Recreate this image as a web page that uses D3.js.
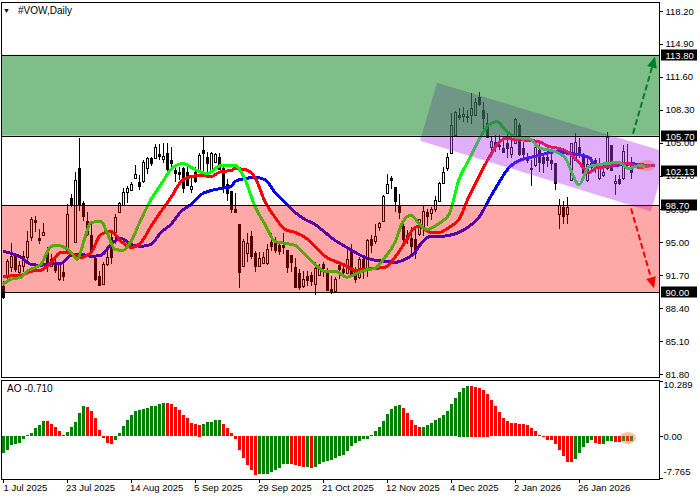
<!DOCTYPE html>
<html>
<head>
<meta charset="utf-8">
<script src="https://cdn.jsdelivr.net/npm/d3@7"></script>
<style>
  body { margin: 0; background: #fff; }
  text { font-family: "Liberation Sans", sans-serif; font-size: 9.5px; fill: #000; }
</style>
</head>
<body>
<svg id="chart" width="700" height="500"></svg>
<script>
// Candles (one entry per bar)
const opens = [90.6,91.6,92.5,93.6,92.0,92.6,93.5,95.5,97.2,95.4,95.7,94.1,92.6,92.8,91.3,92.0,94.1,99.4,95.1,102.5,
  98.9,97.1,95.7,93.4,91.6,90.8,92.8,95.5,96.0,98.0,98.8,100.1,100.3,101.5,101.1,101.2,102.5,103.5,103.5,103.9,
  103.4,104.0,103.3,102.3,102.1,102.5,102.1,100.4,102.1,102.1,104.3,103.6,102.3,103.1,103.6,102.5,100.9,100.2,98.3,96.8,
  92.6,93.9,95.6,93.9,92.6,92.9,92.9,95.0,95.0,94.7,94.7,94.2,93.7,92.5,91.9,90.6,91.6,91.7,90.8,91.7,
  92.8,92.0,90.3,90.1,92.7,92.3,91.9,94.1,92.0,91.5,93.3,92.4,95.3,95.1,96.5,97.1,100.0,101.5,100.6,98.7,
  96.6,95.7,95.4,95.3,95.8,96.6,98.0,97.9,98.3,99.2,101.0,102.5,104.0,105.8,107.8,107.7,107.7,107.8,107.8,109.6,
  108.3,107.0,104.6,105.1,104.8,104.5,105.0,103.9,105.0,106.8,104.5,103.6,102.5,102.8,104.3,103.6,103.6,103.3,103.0,97.8,
  98.5,97.8,101.3,103.3,104.6,103.8,101.3,103.0,103.3,101.5,101.8,102.5,104.8,101.0,101.4,101.5,103.0,103.1];
const closes = [89.5,93.1,93.6,92.3,92.7,93.6,95.1,97.3,97.0,95.2,96.0,92.8,93.3,92.2,92.8,91.6,97.8,98.8,101.3,98.8,
  97.6,95.8,94.1,91.3,90.7,92.8,93.5,93.5,97.5,98.9,100.1,100.5,100.9,101.9,100.7,103.1,103.5,103.0,104.6,103.7,
  103.7,102.4,103.0,102.0,101.9,100.5,100.8,100.7,101.2,103.8,104.0,103.0,104.0,103.9,102.4,100.7,100.0,98.4,98.0,92.0,
  95.1,94.9,93.6,92.6,93.4,93.5,94.3,94.6,94.2,94.1,94.5,92.5,93.0,90.5,90.5,91.3,91.2,91.1,92.4,92.3,
  92.4,90.2,90.1,91.3,92.3,92.0,93.3,91.6,91.3,93.3,92.1,95.2,94.7,95.6,96.9,99.6,100.9,101.3,99.2,98.0,
  95.3,95.3,94.6,93.9,97.3,98.1,97.6,98.3,99.2,101.0,102.1,103.6,106.8,108.1,107.6,107.9,107.6,108.5,109.1,108.9,
  107.5,105.6,105.2,104.8,104.7,104.1,104.5,104.6,107.4,103.9,103.9,103.3,102.4,104.6,103.1,103.0,103.3,103.0,101.0,98.7,
  97.6,98.5,105.0,105.1,104.0,102.0,102.9,102.6,102.6,102.6,102.1,105.6,102.3,101.2,101.0,104.2,102.8,102.13];
const highs = [91.1,93.3,94.9,93.8,93.1,94.1,96.1,97.5,97.6,96.3,96.9,94.5,93.8,93.5,93.0,93.1,98.8,99.8,102.1,105.5,
  99.1,98.0,97.0,93.6,92.1,93.0,94.5,96.0,97.8,99.0,100.5,100.7,101.1,102.8,101.8,103.3,103.6,103.6,104.9,104.9,
  105.0,105.0,104.6,102.8,102.6,102.6,102.6,101.5,102.6,104.0,105.6,104.1,104.1,104.0,104.0,102.6,101.4,100.2,99.9,96.8,
  95.3,95.9,96.1,94.1,94.0,94.0,94.8,95.9,95.5,95.1,95.9,94.2,93.7,93.4,92.3,92.1,92.1,92.0,93.0,92.8,
  93.0,92.4,91.6,91.5,93.0,92.6,94.6,94.8,92.5,93.5,93.5,95.3,95.7,96.8,97.0,99.7,101.9,101.7,100.6,99.8,
  96.8,96.2,96.5,96.6,97.3,98.7,98.3,98.5,99.6,101.1,102.6,104.0,108.0,108.2,108.5,108.6,108.3,110.0,109.5,110.1,
  109.1,108.0,105.6,105.8,105.8,105.6,106.1,105.5,107.5,107.0,105.1,104.0,103.3,104.8,105.0,103.8,104.3,103.9,103.0,99.3,
  99.1,99.5,105.0,106.0,105.5,104.0,103.5,103.6,103.5,103.5,103.0,106.1,104.8,101.8,101.8,104.8,104.9,103.6];
const lows = [89.3,91.3,92.0,92.0,91.5,92.0,93.1,95.1,96.0,94.8,95.7,92.0,92.5,91.9,91.1,91.1,94.0,98.5,95.0,98.1,
  97.1,95.6,94.0,91.1,90.6,90.7,92.6,92.8,94.8,98.0,98.6,98.9,100.2,101.4,100.3,101.0,101.9,102.7,103.4,103.3,
  103.0,102.2,102.6,101.1,101.3,100.0,100.7,100.0,101.0,102.0,102.1,102.1,102.2,103.0,102.3,100.0,99.1,97.9,98.0,90.4,
  92.5,93.0,93.3,92.0,92.5,92.9,92.7,94.1,93.9,93.7,93.8,91.9,92.0,90.4,90.2,90.4,90.6,90.6,89.7,91.6,
  91.5,90.1,89.8,90.1,91.3,91.5,91.8,91.5,90.9,91.3,91.3,91.5,93.9,94.8,96.1,97.0,99.8,100.4,98.0,97.3,
  95.0,94.8,93.7,93.3,95.6,95.6,96.6,97.2,98.0,99.1,100.9,102.2,104.0,105.8,107.3,107.1,107.0,106.9,107.8,108.7,
  106.3,105.5,103.6,104.1,104.3,104.0,103.5,103.5,104.9,103.7,103.3,103.0,100.7,102.6,102.1,102.0,102.6,102.3,100.3,96.3,
  96.8,96.8,101.3,103.2,103.5,101.9,101.1,102.0,102.0,101.3,101.6,102.3,102.3,99.7,100.8,101.3,102.3,101.4];

// Alligator lines (bar position, price)
const jawBars = [0,4.5,7,9.5,12,14.5,17,19.5,22,24.5,27,29.5,32,34.5,37,39.5,42,44.5,47,49.5,52,54.5,57,58,60.5,63,65.5,68,70.5,73,75.5,78,80.5,83,85.5,88,90.5,93,95.5,98,100.5,103,104,105.5,107,109,111.5,114,116.5,119,121.5,124,126.5,129,131.5,134,136.5,139,141.5,144,146.5,148.5,150.5,153,157,159,163];
const jawPrices = [94.1,93.5,92.8,92.7,92.9,92.9,93.7,93.8,93.6,93.7,94.8,95.4,94.8,94.6,94.8,96.0,96.8,98.1,98.8,99.8,100.2,100.4,100.6,101.1,101.4,101.5,101.3,100.0,99.0,98.0,97.3,96.8,96.0,95.2,94.6,94.0,93.5,93.2,93.1,93.0,93.3,94.0,94.6,95.3,95.6,95.6,95.7,96.0,96.6,97.5,99.3,101.0,102.5,103.2,103.5,103.7,104.0,104.1,103.9,103.8,103.5,102.6,102.6,102.7,102.9,102.8,102.7];
const teethBars = [0,4.5,7,9.5,12,14.5,17,19.5,22,24.5,27,29.5,32,34.5,37,39.5,42,44.5,47,49.5,52,54.5,57,58,60.5,63,65.5,68,70.5,73,75.5,78,80.5,83,85.5,88,90.5,93,95.5,98,100.5,103,104,107,109,111.5,114,116.5,119,121.5,124,125.5,129,134,136.5,138,141.5,144,146.5,148.5,151.5,154,156.5,159,162];
const teethPrices = [91.6,91.7,92.1,92.2,93.0,94.0,93.9,93.5,94.0,95.8,96.1,95.1,94.5,95.0,96.6,98.1,99.5,101.1,101.6,101.7,101.6,102.1,102.2,102.4,102.3,101.5,99.1,97.5,96.3,96.0,95.5,94.6,93.6,93.1,92.7,92.2,92.3,92.4,92.5,93.5,95.0,96.5,96.6,96.0,96.0,96.5,97.3,99.6,101.6,103.5,105.0,105.4,105.3,105.1,104.6,104.5,104.0,103.0,102.0,102.5,102.6,102.9,102.9,102.5,102.7];
const lipsBars = [0,2,4.5,6,9.5,12,13.5,17,18.5,20.5,22,24.5,26,28,30,32,34.5,37,39.5,42,45,48,51,54.5,57,58,60.5,63,65.5,68,70.5,73,75.5,78,80.5,83,86,88,90.5,93,95.5,98,100,102,104,106,109,111.5,114,116.5,119,121.5,123.5,125.5,128.5,131.5,134,138,140.5,144,146.5,149,154,156.5,159,160.5];
const lipsPrices = [90.8,91.3,91.5,92.1,92.8,94.6,94.7,94.0,93.3,95.5,97.0,97.1,96.0,94.3,94.2,95.1,97.3,99.3,100.8,102.3,102.9,102.3,101.9,102.7,102.7,102.7,101.3,98.6,96.8,95.1,94.9,94.7,93.8,92.8,92.1,92.1,91.5,91.8,92.2,92.4,93.5,95.0,97.1,97.7,96.9,96.3,96.9,97.8,101.3,103.3,105.3,106.8,107.1,106.3,105.5,105.4,104.5,104.1,103.5,100.8,102.6,102.8,103.0,102.4,102.7,102.6];

// Awesome Oscillator
const aoValues = [-3.09,-2.59,-1.67,-1.48,-1.30,-0.56,0.19,0.56,1.48,2.04,2.78,2.78,2.28,1.67,0.93,0.19,0.74,1.67,2.59,4.26,5.56,5.37,4.69,3.33,1.11,-0.37,-1.30,-1.48,-0.74,0.56,1.85,2.96,3.89,4.63,4.81,5.00,5.19,5.56,5.62,5.93,6.11,6.11,5.93,5.37,4.88,3.89,3.33,2.41,2.22,2.16,2.22,2.59,2.65,2.96,3.02,2.22,1.48,0.56,-0.56,-2.53,-4.07,-5.37,-6.30,-7.22,-7.04,-7.04,-7.04,-6.67,-6.30,-5.93,-5.19,-5.19,-5.19,-5.37,-5.56,-5.68,-5.74,-5.93,-5.74,-5.19,-4.81,-4.63,-4.44,-4.07,-3.70,-3.52,-2.78,-1.85,-1.36,-0.93,-0.56,-0.56,0.19,0.93,1.67,2.78,4.07,5.00,5.56,5.74,5.19,4.26,2.96,2.04,1.67,1.67,2.04,2.41,2.96,3.33,3.89,4.63,5.93,7.04,8.33,9.07,9.44,9.44,9.26,9.07,8.70,7.96,6.67,5.56,4.44,3.33,2.78,2.41,2.41,2.22,2.22,2.04,1.48,0.93,0.19,-0.19,-0.74,-0.74,-1.48,-2.59,-3.70,-4.81,-4.81,-4.26,-3.15,-2.04,-1.30,-0.74,-1.30,-1.48,-1.48,-0.93,-0.93,-1.11,-1.11,-0.93,-0.93,-0.93];
const aoColors = ["g","g","g","g","g","g","g","g","g","g","g","r","r","r","r","r","g","g","g","g","g","r","r","r","r","r","r","r","g","g","g","g","g","g","g","g","g","g","g","g","g","r","r","r","r","r","r","r","r","r","g","g","g","g","g","r","r","r","r","r","r","r","r","r","g","g","g","g","g","g","g","g","r","r","r","r","g","r","g","g","g","g","g","g","g","g","g","g","g","g","g","g","g","g","g","g","g","g","g","g","r","r","r","r","r","g","g","g","g","g","g","g","g","g","g","g","g","r","r","r","r","r","r","r","r","r","r","r","r","r","r","r","r","r","r","r","r","r","r","r","r","r","r","g","g","g","g","g","r","r","g","g","g","r","r","g","r","g"];

const priceTicks = [118.2,114.9,111.6,108.3,105.0,101.7,98.3,95.0,91.7,88.4,85.1,81.8];
const aoTicks = [10.289,0,-7.765];
const dateTickBars = [0,16,32,48,64,80,96,112,128,144];
const dateTickLabels = ["1 Jul 2025","23 Jul 2025","14 Aug 2025","5 Sep 2025","29 Sep 2025","21 Oct 2025","12 Nov 2025","4 Dec 2025","2 Jan 2026","26 Jan 2026"];

// Drawn levels and objects
const levelPrices = [113.8,105.7,102.13,98.7,90];
const channelBars = [108.5,166.25,162,104.25];
const channelPrices = [111.0,104.0,98.1,105.2];
const upArrowBars = [157.5,163];
const upArrowPrices = [105.9,113.6];
const downArrowBars = [157,162.75];
const downArrowPrices = [98.4,90.4];

const svg = d3.select("#chart");
const plotLeft = 2, plotRight = 659, mainTop = 2, mainBottom = 377, aoTop = 380, aoBottom = 479;

const x = d3.scaleLinear().domain([0, 164]).range([3, 659]);
const y = d3.scaleLinear().domain([81.8, 118.2]).range([374, 11]);
const yAo = d3.scaleLinear().domain([-7.765, 10.289]).range([478, 381]);
const px = v => Math.round(x(v)) + 0.5;

svg.append("defs").append("clipPath").attr("id", "mainClip")
  .append("rect").attr("x", plotLeft).attr("y", mainTop)
  .attr("width", plotRight - plotLeft).attr("height", mainBottom - mainTop);
svg.select("defs").append("clipPath").attr("id", "aoClip")
  .append("rect").attr("x", plotLeft).attr("y", aoTop)
  .attr("width", plotRight - plotLeft).attr("height", aoBottom - aoTop);

const main = svg.append("g").attr("clip-path", "url(#mainClip)");

// --- Candles ---
const candles = main.append("g").selectAll("g").data(opens).enter().append("g");
candles.append("line")
  .attr("x1", (d, i) => px(i)).attr("x2", (d, i) => px(i))
  .attr("y1", (d, i) => y(highs[i])).attr("y2", (d, i) => y(lows[i]))
  .attr("stroke", "#000").attr("shape-rendering", "crispEdges");
candles.append("rect")
  .attr("x", (d, i) => px(i) - 1).attr("width", 2)
  .attr("y", (d, i) => Math.round(y(Math.max(opens[i], closes[i]))) + 0.5)
  .attr("height", (d, i) => Math.max(1, Math.round(Math.abs(y(opens[i]) - y(closes[i])))))
  .attr("fill", (d, i) => closes[i] >= opens[i] ? "#fff" : "#000")
  .attr("stroke", "#000").attr("shape-rendering", "crispEdges");

// --- Alligator ---
function drawLine(bars, prices, color) {
  const line = d3.line().x((d, i) => x(bars[i])).y(d => y(d)).curve(d3.curveMonotoneX);
  main.append("path").datum(prices).attr("d", line)
    .attr("fill", "none").attr("stroke", color).attr("stroke-width", 3)
    .attr("shape-rendering", "crispEdges");
}
drawLine(jawBars, jawPrices, "#0000ff");
drawLine(teethBars, teethPrices, "#ff0000");
drawLine(lipsBars, lipsPrices, "#00ff00");

// --- Channel, then the zones over it ---
main.append("path").datum(channelPrices)
  .attr("d", d3.line().x((d, i) => x(channelBars[i])).y(d => y(d)).curve(d3.curveLinearClosed))
  .attr("fill", "rgba(182,60,243,0.41)");

main.append("rect").attr("x", plotLeft).attr("width", plotRight - plotLeft)
  .attr("y", y(levelPrices[0])).attr("height", y(levelPrices[1]) - y(levelPrices[0]))
  .attr("fill", "rgba(0,125,20,0.5)");
main.append("rect").attr("x", plotLeft).attr("width", plotRight - plotLeft)
  .attr("y", y(levelPrices[3])).attr("height", y(levelPrices[4]) - y(levelPrices[3]))
  .attr("fill", "rgba(255,0,0,0.34)");

[0, 1, 3, 4].forEach(k => {
  main.append("line").attr("x1", plotLeft).attr("x2", plotRight)
    .attr("y1", Math.round(y(levelPrices[k])) + 0.5).attr("y2", Math.round(y(levelPrices[k])) + 0.5)
    .attr("stroke", "#000").attr("shape-rendering", "crispEdges");
});

// --- Target arrows ---
function drawArrow(bars, prices, color) {
  const x0 = x(bars[0]), y0 = y(prices[0]), x1 = x(bars[1]), y1 = y(prices[1]);
  const a = Math.atan2(y1 - y0, x1 - x0), len = 11, wing = 5;
  const bx = x1 - len * Math.cos(a), by = y1 - len * Math.sin(a);
  main.append("line").attr("x1", x0).attr("y1", y0).attr("x2", bx).attr("y2", by)
    .attr("stroke", color).attr("stroke-width", 2).attr("stroke-dasharray", "6,3");
  main.append("polygon").attr("fill", color).attr("points", [
    [x1, y1],
    [bx - wing * Math.sin(a), by + wing * Math.cos(a)],
    [bx + wing * Math.sin(a), by - wing * Math.cos(a)]
  ].join(" "));
}
drawArrow(upArrowBars, upArrowPrices, "#008020");
drawArrow(downArrowBars, downArrowPrices, "#ff0000");

// marker on the last price
main.append("ellipse").attr("cx", x(161)).attr("cy", y(102.7)).attr("rx", 8.5).attr("ry", 5.5)
  .attr("fill", "rgba(255,100,40,0.4)");

// --- AO panel ---
const ao = svg.append("g").attr("clip-path", "url(#aoClip)");
ao.selectAll("rect").data(aoValues).enter().append("rect")
  .attr("x", (d, i) => Math.round(x(i)) - 1).attr("width", 3)
  .attr("y", d => Math.round(yAo(Math.max(d, 0))))
  .attr("height", d => Math.max(1, Math.round(Math.abs(yAo(d) - yAo(0)))))
  .attr("fill", (d, i) => aoColors[i] === "g" ? "#008000" : "#ff0000")
  .attr("shape-rendering", "crispEdges");
ao.append("ellipse").attr("cx", x(156.25)).attr("cy", yAo(-0.3)).attr("rx", 8).attr("ry", 6)
  .attr("fill", "rgba(255,100,40,0.4)");

// --- Frames ---
[[mainTop, mainBottom], [aoTop, aoBottom]].forEach(r => {
  svg.append("rect").attr("x", plotLeft - 0.5).attr("y", r[0] + 0.5)
    .attr("width", plotRight - plotLeft + 1).attr("height", r[1] - r[0])
    .attr("fill", "none").attr("stroke", "#000").attr("shape-rendering", "crispEdges");
});

// --- Axes ---
function cleanAxis(g) {
  g.select(".domain").remove();
  g.selectAll("line").attr("stroke", "#000").attr("shape-rendering", "crispEdges");
  g.selectAll("text").attr("fill", "#000").attr("font-family", null).attr("font-size", null);
  g.attr("font-size", null).attr("font-family", null);
}

const priceAxis = svg.append("g").attr("transform", `translate(${plotRight + 0.5},0)`)
  .call(d3.axisRight(y).tickValues(priceTicks).tickFormat(d3.format(".2f")).tickSize(3).tickPadding(3));
cleanAxis(priceAxis);

const aoAxis = svg.append("g").attr("transform", `translate(${plotRight + 0.5},0)`)
  .call(d3.axisRight(yAo).tickValues(aoTicks).tickFormat((d, i) => ["10.289", "0.00", "-7.765"][i]).tickSize(3).tickPadding(1));
cleanAxis(aoAxis);
aoAxis.selectAll("text").attr("dy", (d, i) => [6.5, 3.2, -3.2][i]);

const timeAxis = svg.append("g").attr("transform", `translate(0,${aoBottom + 0.5})`)
  .call(d3.axisBottom(x).tickValues(dateTickBars).tickFormat((d, i) => dateTickLabels[i]).tickSize(3).tickPadding(2));
cleanAxis(timeAxis);
timeAxis.selectAll("text").attr("text-anchor", "start").attr("dx", (d, i) => i === 0 ? 0 : -1.5);

// --- Price labels on the axis ---
const boxes = svg.append("g").selectAll("g").data(levelPrices).enter().append("g")
  .attr("transform", d => `translate(661,${Math.round(y(d))})`);
boxes.append("rect").attr("y", -5.5).attr("width", 36).attr("height", 11).attr("fill", "#000");
boxes.append("text").attr("x", 4.5).attr("y", 3.5).style("fill", "#fff")
  .text(d => d.toFixed(2));

// --- Titles ---
svg.append("text").attr("x", 3).attr("y", 13).style("font-size", "7px").text("▼");
svg.append("text").attr("x", 18).attr("y", 14).style("font-size", "10px").text("#VOW,Daily");
svg.append("text").attr("x", 7).attr("y", 392).style("font-size", "10px").text("AO -0.710");
</script>
</body>
</html>
